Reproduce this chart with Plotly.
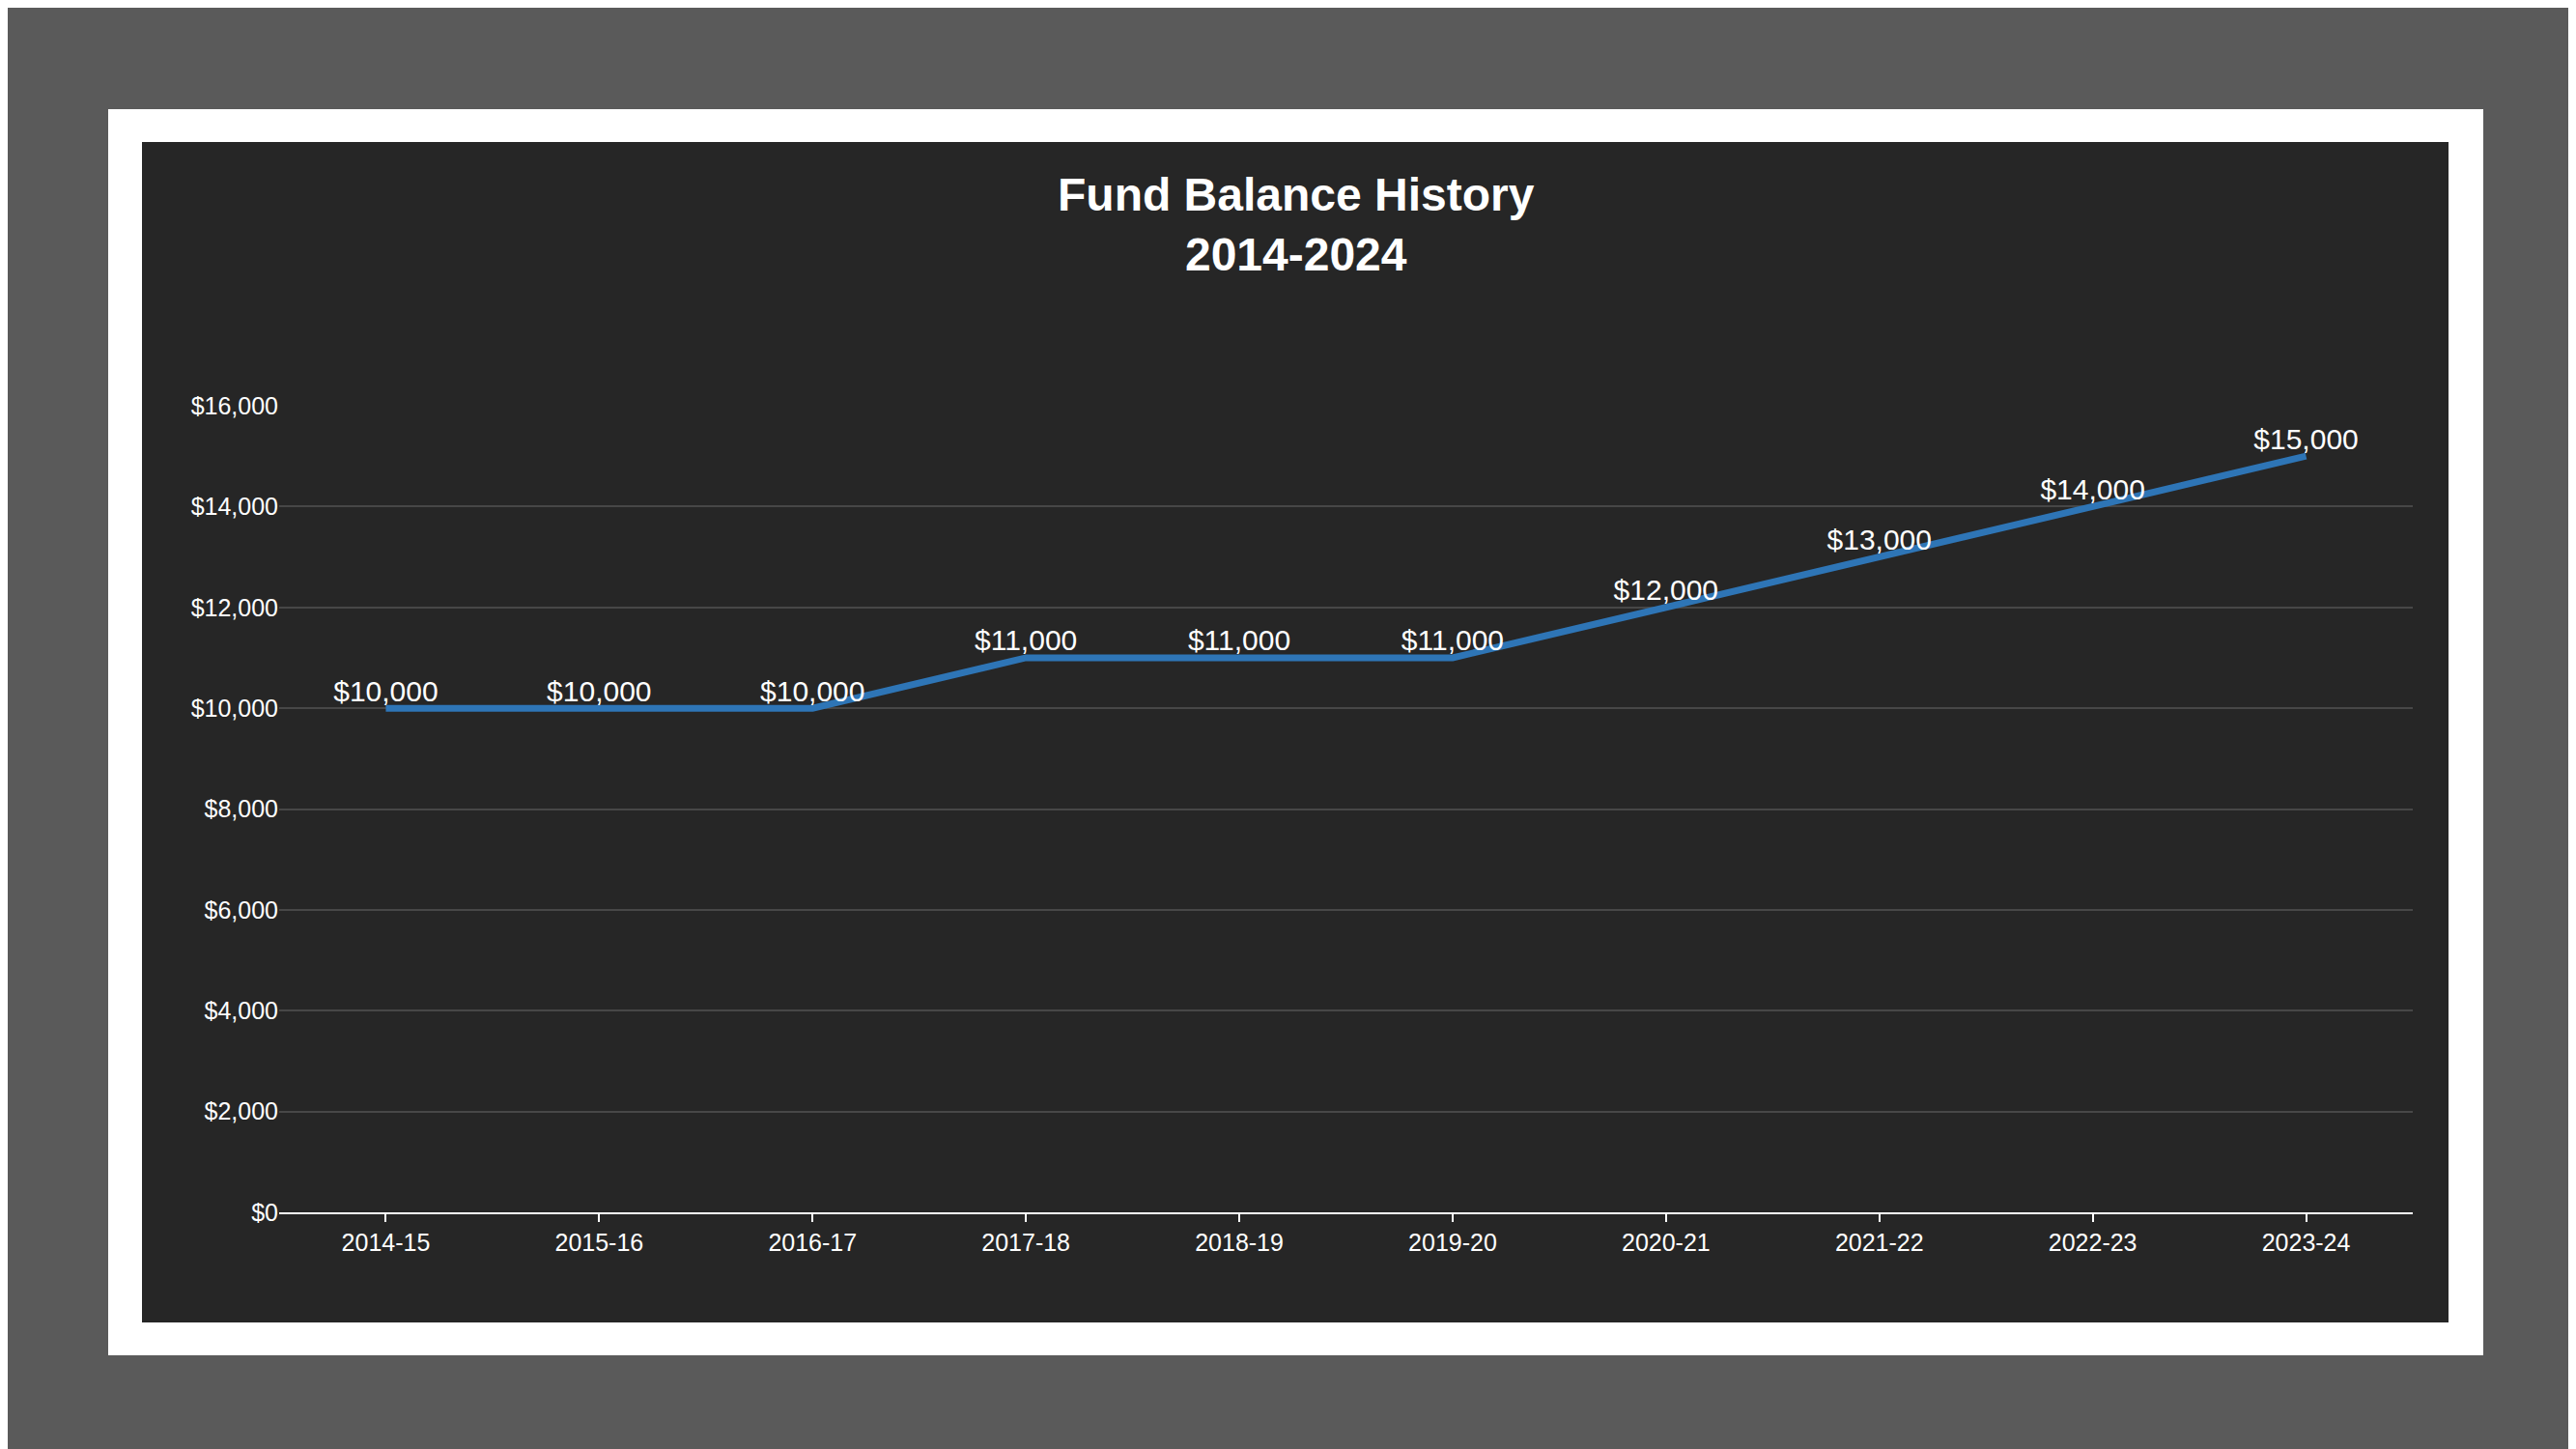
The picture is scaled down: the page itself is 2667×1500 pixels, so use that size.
import plotly.graph_objects as go

years = ["2014-15", "2015-16", "2016-17", "2017-18", "2018-19",
         "2019-20", "2020-21", "2021-22", "2022-23", "2023-24"]
balance = [10000, 10000, 10000, 11000, 11000, 11000, 12000, 13000, 14000, 15000]
yticks = [0, 2000, 4000, 6000, 8000, 10000, 12000, 14000, 16000]

W, H = 2667, 1500
L, R, T, B = 281, 2490, 412, 1247


def px_x(v):
    return (v - L) / (R - L)


def px_y(v):
    return (B - v) / (B - T)


fig = go.Figure()
fig.add_trace(go.Scatter(
    x=years, y=balance, mode="lines+text",
    line=dict(color="#2e75b6", width=7),
    text=["${:,}".format(v) for v in balance],
    textposition="top center",
    textfont=dict(color="white", size=30, family="Liberation Sans"),
    cliponaxis=False, hoverinfo="skip",
))

fig.update_layout(
    width=W, height=H,
    margin=dict(l=L, r=W - R, t=T, b=H - B),
    paper_bgcolor="#5a5a5a", plot_bgcolor="#262626",
    showlegend=False,
    font=dict(family="Liberation Sans", color="white", size=25),
    shapes=[
        dict(type="rect", xref="paper", yref="paper", layer="below",
             x0=px_x(104), x1=px_x(2563), y0=px_y(1395), y1=px_y(105),
             fillcolor="white", line_width=0),
        dict(type="rect", xref="paper", yref="paper", layer="below",
             x0=px_x(139), x1=px_x(2527), y0=px_y(1361), y1=px_y(139),
             fillcolor="#262626", line_width=0),
    ],
    annotations=[dict(
        text="<b>Fund Balance History<br>2014-2024</b>",
        xref="paper", yref="paper", x=px_x(1334), y=px_y(165),
        xanchor="center", yanchor="top", showarrow=False,
        font=dict(size=48, color="white", family="Liberation Sans"),
    )],
)
fig.update_xaxes(
    type="category", range=[-0.5, 9.5], showgrid=False,
    showline=True, linecolor="white", linewidth=2,
    ticks="outside", tickcolor="white", ticklen=8, tickwidth=2,
    tickfont=dict(size=25, color="white"),
)
fig.update_yaxes(
    range=[0, 16000], tickvals=yticks,
    ticktext=["${:,}".format(v) for v in yticks],
    gridcolor="#474747", gridwidth=2, zeroline=False,
    tickfont=dict(size=25, color="white"),
)

fig.write_html("out.html")
